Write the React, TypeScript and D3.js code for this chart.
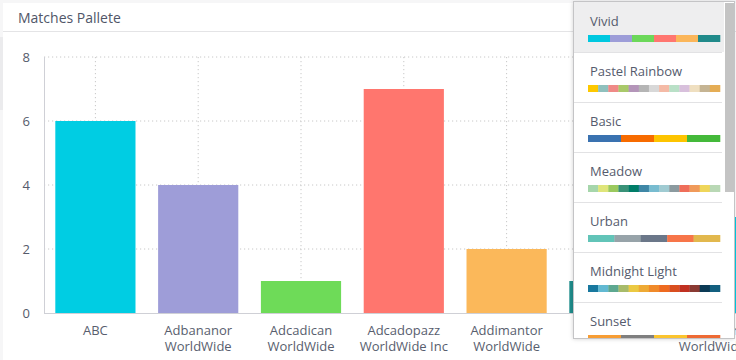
import React from "react";
import * as d3 from "d3";

const categories = [
  ["ABC"],
  ["Adbananor", "WorldWide"],
  ["Adcadican", "WorldWide"],
  ["Adcadopazz", "WorldWide Inc"],
  ["Addimantor", "WorldWide"],
  ["Adelphor"],
  ["Adfastor", "WorldWide"],
];
const values = [6, 4, 1, 7, 2, 1, 3];
const barColors = ["#00cde3", "#9e9dd8", "#6edb58", "#ff766e", "#fbb85a", "#1f8d8c", "#00cde3"];
const yTicks = [0, 2, 4, 6, 8];

const paletteNames = ["Vivid", "Pastel Rainbow", "Basic", "Meadow", "Urban", "Midnight Light", "Sunset"];
const vivid = ["#00c8e0", "#9d9dd8", "#6cd85a", "#ff7670", "#fbb65a", "#208a8a"];
const pastelRainbow = ["#fdc800", "#8fc0bd", "#ef8a87", "#a9c96a", "#b495b9", "#b5b5b5", "#d8d8d8", "#f4baa6", "#b9e0c7", "#d8c0dc", "#efdfc0", "#c5b493", "#e5ad55"];
const basic = ["#3a72b0", "#f76b00", "#fdc400", "#44b93a"];
const meadow = ["#a6d6ab", "#dfe57a", "#9bc95e", "#3a9278", "#007d68", "#3f87a6", "#78bcd0", "#a0cbd2", "#8b9a9f", "#ef6e5a", "#f09a5a", "#efd65a", "#b9d8b5"];
const urban = ["#62c4b8", "#97a3a9", "#6b7789", "#f77549", "#e2b84d"];
const midnightLight = ["#18789e", "#62b9d2", "#5da890", "#a7bb6a", "#ebc942", "#eeaa35", "#f08a2a", "#ee6a20", "#d94e1f", "#c03021", "#8a3a33", "#0c3a55", "#135f7f"];
const sunset = ["#f79d34", "#7f7f7f", "#fbc42e", "#ee6a34"];
const palettes = [vivid, pastelRainbow, basic, meadow, urban, midnightLight, sunset];

const W = 736;
const H = 360;
const FONT = "'Open Sans', sans-serif";

export default function App() {
  const plotLeft = 44;
  const step = 102.8;
  const x = d3
    .scaleBand<number>()
    .domain(d3.range(categories.length))
    .range([plotLeft, plotLeft + step * categories.length])
    .paddingInner(0.22)
    .paddingOuter(0.11);
  const y = d3.scaleLinear().domain([0, 8]).range([313, 57]);
  const xEnd = plotLeft + step * categories.length;

  const ddX = 573;
  const ddY = 1;
  const ddW = 161;
  const ddH = 337;
  const itemH = 50;
  const swX = 588;
  const swW = 132;

  return (
    <svg
      width={W}
      height={H}
      style={{ position: "absolute", left: 0, top: 0, display: "block", fontFamily: FONT }}
    >
      <defs>
        <filter id="shadow" x="-10%" y="-10%" width="120%" height="120%">
          <feDropShadow dx="0" dy="1" stdDeviation="2" floodColor="#000" floodOpacity="0.18" />
        </filter>
        <clipPath id="ddclip">
          <rect x={ddX} y={ddY} width={ddW} height={ddH} />
        </clipPath>
      </defs>
      <rect x={0} y={0} width={W} height={H} fill="#f6f6f7" />
      <rect x={0} y={37} width={3} height={73} fill="#ebebed" />
      <rect x={3} y={3} width={W} height={H} fill="#ffffff" />
      <text x={18} y={17} dominantBaseline="central" fontSize={14} fill="#505668">
        Matches Pallete
      </text>
      <line x1={3} x2={W} y1={31.5} y2={31.5} stroke="#e4e4e6" />

      {/* grid */}
      {yTicks.filter((t) => t > 0).map((t) => (
        <line key={"h" + t} x1={plotLeft} x2={xEnd} y1={y(t)} y2={y(t)} stroke="#c8c8c8" strokeDasharray="1.2 2.8" />
      ))}
      {categories.map((_, i) => (
        <line
          key={"v" + i}
          x1={x(i)! + x.bandwidth() / 2}
          x2={x(i)! + x.bandwidth() / 2}
          y1={y(8)}
          y2={y(0)}
          stroke="#c8c8c8"
          strokeDasharray="1.2 2.8"
        />
      ))}

      {/* bars */}
      {values.map((v, i) => (
        <rect key={"b" + i} x={x(i)} y={y(v)} width={x.bandwidth()} height={y(0) - y(v)} fill={barColors[i]} />
      ))}

      {/* axes */}
      <line x1={plotLeft + 0.5} x2={plotLeft + 0.5} y1={y(8)} y2={y(0)} stroke="#cfd0d6" />
      <line x1={plotLeft} x2={xEnd} y1={y(0) + 0.5} y2={y(0) + 0.5} stroke="#cfd0d6" />
      {yTicks.map((t) => (
        <text key={"yt" + t} x={30} y={y(t)} textAnchor="end" dominantBaseline="central" fontSize={13} fill="#555b6b">
          {t}
        </text>
      ))}
      {categories.map((lines, i) =>
        lines.map((l, j) => (
          <text
            key={"xl" + i + "-" + j}
            x={x(i)! + x.bandwidth() / 2}
            y={330 + j * 16}
            textAnchor="middle"
            dominantBaseline="central"
            fontSize={13}
            fill="#585e6e"
          >
            {l}
          </text>
        ))
      )}

      {/* dropdown */}
      <rect x={ddX} y={ddY} width={ddW} height={ddH} fill="#ffffff" filter="url(#shadow)" />
      <g clipPath="url(#ddclip)">
        <rect x={ddX} y={ddY} width={ddW - 10} height={itemH + 1} fill="#eeeeef" />
        {paletteNames.map((name, i) => {
          const top = 2 + i * itemH;
          const cols = palettes[i];
          const sx = d3.scaleLinear().domain([0, cols.length]).range([swX, swX + swW]);
          return (
            <g key={name}>
              <text x={590} y={top + 19} dominantBaseline="central" fontSize={13} fill="#555b6d">
                {name}
              </text>
              {cols.map((c, k) => (
                <rect key={k} x={sx(k)} y={top + 33} width={sx(k + 1) - sx(k) + 0.3} height={7} fill={c} />
              ))}
              {i < paletteNames.length - 1 && (
                <line x1={574} x2={722} y1={top + itemH + 0.5} y2={top + itemH + 0.5} stroke="#e2e2e4" />
              )}
            </g>
          );
        })}
        <rect x={725} y={3} width={9} height={189} fill="#c4c4c4" />
      </g>
      <rect x={ddX + 0.5} y={ddY + 0.5} width={ddW} height={ddH} fill="none" stroke="#c4c4c6" />
    </svg>
  );
}
